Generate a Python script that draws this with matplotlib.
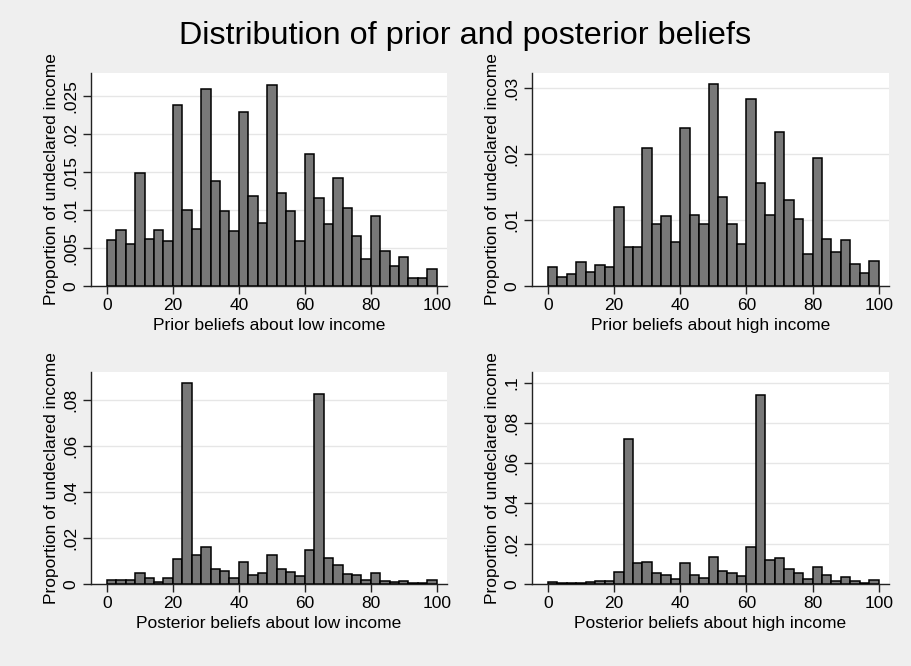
import matplotlib.pyplot as plt
import numpy as np

plt.rcParams.update(
    {
        "font.family": ["Liberation Sans", "DejaVu Sans"],
        "font.size": 12,
    }
)

# ----------------------------------------------------------------------------
# Data: proportion per bin, 35 equal bins over 0-100
# ----------------------------------------------------------------------------
n_bins = 35
bin_edges = np.linspace(0, 100, n_bins + 1)

prior_low = [
    0.0061, 0.0074, 0.0056, 0.0149, 0.0062, 0.0074, 0.0060, 0.0239, 0.0100,
    0.0075, 0.0260, 0.0138, 0.0099, 0.0072, 0.0229, 0.0119, 0.0083, 0.0265,
    0.0123, 0.0099, 0.0059, 0.0174, 0.0116, 0.0082, 0.0143, 0.0103, 0.0066,
    0.0035, 0.0092, 0.0046, 0.0026, 0.0038, 0.0011, 0.0010, 0.0022,
]

prior_high = [
    0.0028, 0.0013, 0.0018, 0.0036, 0.0021, 0.0031, 0.0028, 0.0120, 0.0059,
    0.0059, 0.0209, 0.0094, 0.0106, 0.0066, 0.0239, 0.0107, 0.0093, 0.0305,
    0.0135, 0.0094, 0.0064, 0.0282, 0.0155, 0.0108, 0.0233, 0.0130, 0.0101,
    0.0049, 0.0194, 0.0071, 0.0052, 0.0070, 0.0033, 0.0020, 0.0038,
]

posterior_low = [
    0.0017, 0.0017, 0.0017, 0.0049, 0.0025, 0.0010, 0.0026, 0.0110, 0.0875,
    0.0125, 0.0161, 0.0067, 0.0055, 0.0028, 0.0097, 0.0041, 0.0049, 0.0126,
    0.0067, 0.0054, 0.0035, 0.0149, 0.0827, 0.0113, 0.0084, 0.0044, 0.0038,
    0.0019, 0.0049, 0.0015, 0.0007, 0.0015, 0.0006, 0.0004, 0.0016,
]

posterior_high = [
    0.0008, 0.0005, 0.0005, 0.0007, 0.0010, 0.0013, 0.0017, 0.0061, 0.0719,
    0.0102, 0.0109, 0.0055, 0.0043, 0.0026, 0.0102, 0.0045, 0.0030, 0.0132,
    0.0066, 0.0055, 0.0041, 0.0182, 0.0937, 0.0119, 0.0129, 0.0074, 0.0055,
    0.0026, 0.0086, 0.0043, 0.0013, 0.0035, 0.0013, 0.0007, 0.0020,
]

x_ticks = [0, 20, 40, 60, 80, 100]

panels = [
    (prior_low, "Prior beliefs about low income",
     [0, .005, .01, .015, .02, .025], ["0", ".005", ".01", ".015", ".02", ".025"], 0.0281),
    (prior_high, "Prior beliefs about high income",
     [0, .01, .02, .03], ["0", ".01", ".02", ".03"], 0.0322),
    (posterior_low, "Posterior beliefs about low income",
     [0, .02, .04, .06, .08], ["0", ".02", ".04", ".06", ".08"], 0.0923),
    (posterior_high, "Posterior beliefs about high income",
     [0, .02, .04, .06, .08, .1], ["0", ".02", ".04", ".06", ".08", ".1"], 0.1053),
]

# ----------------------------------------------------------------------------
# Figure
# ----------------------------------------------------------------------------
W, H = 911, 666
fig = plt.figure(figsize=(W / 100, H / 100), dpi=100, facecolor="#efefef")

# plot area boxes in pixels: left, top, right, bottom
boxes = [
    (91, 73, 447, 286),
    (532, 73, 889, 286),
    (91, 372, 447, 584),
    (532, 372, 889, 584),
]

for (values, xlabel, yticks, ylabels, ytop), (l, t, r, b) in zip(panels, boxes):
    ax = fig.add_axes([l / W, 1 - b / H, (r - l) / W, (b - t) / H])
    ax.set_facecolor("white")

    ax.bar(
        bin_edges[:-1],
        values,
        width=np.diff(bin_edges),
        align="edge",
        color="#787878",
        edgecolor="black",
        linewidth=1.1,
        zorder=3,
    )

    ax.set_xlim(-4.8, 103.1)
    ax.set_ylim(0, ytop)

    ax.set_xticks(x_ticks)
    ax.set_yticks(yticks)
    ax.set_yticklabels(ylabels, rotation=90, va="center")

    ax.grid(axis="y", color="#e6e6e6", linewidth=1.0, zorder=0)
    ax.set_axisbelow(True)

    for side in ("top", "right"):
        ax.spines[side].set_visible(False)
    for side in ("left", "bottom"):
        ax.spines[side].set_color("#222222")
        ax.spines[side].set_linewidth(1.0)

    ax.tick_params(direction="out", length=6, width=1.0, color="#222222",
                   labelsize=12.5, pad=3)

    ax.set_xlabel(xlabel, fontsize=12.5, labelpad=3)
    ax.set_ylabel("Proportion of undeclared income", fontsize=12.5, labelpad=3)

fig.text(465 / W, 1 - 36 / H, "Distribution of prior and posterior beliefs",
         ha="center", va="center", fontsize=23.3)

fig.savefig("out.png", dpi=100, facecolor=fig.get_facecolor())
plt.close(fig)
